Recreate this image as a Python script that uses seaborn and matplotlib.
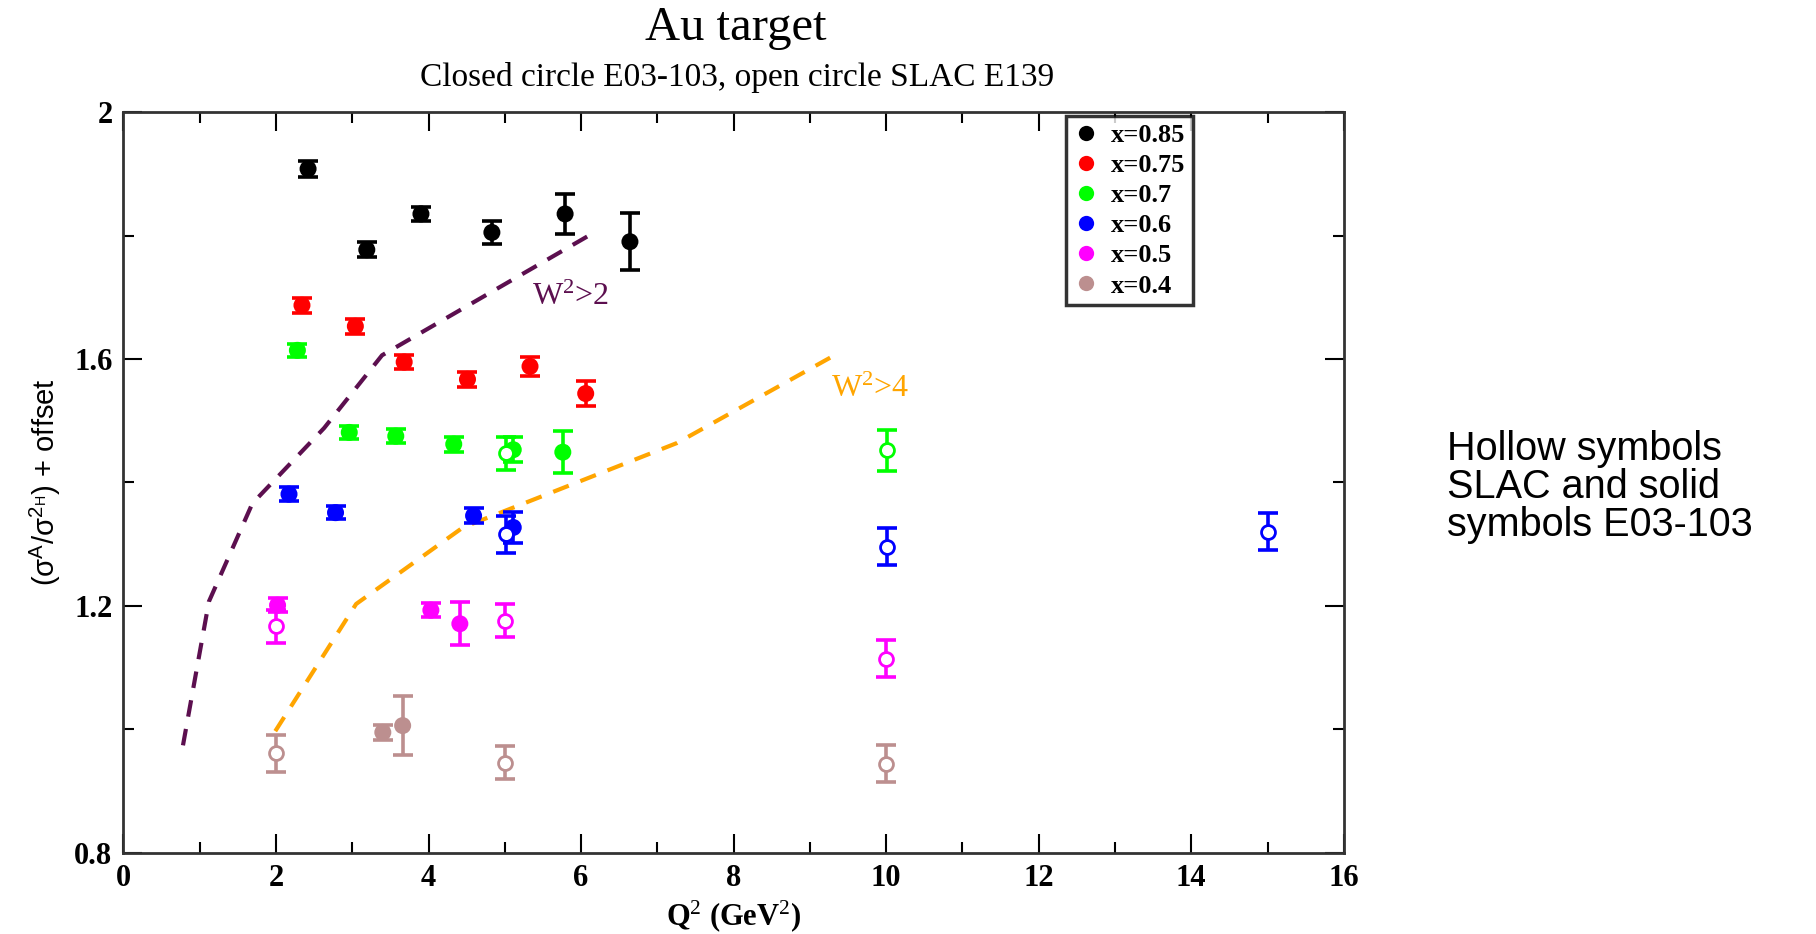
import numpy as np
import pandas as pd
import matplotlib
matplotlib.use("Agg")
import matplotlib.pyplot as plt
import seaborn as sns
from matplotlib.ticker import MultipleLocator
from matplotlib.lines import Line2D

# ---- data ----
labels = ["x=0.85", "x=0.75", "x=0.7", "x=0.6", "x=0.5", "x=0.4"]
colors = ["#000000", "#ff0000", "#00ff00", "#0000ff", "#ff00ff", "#bc8f8f"]

# solid (E03-103)
solid_q2 = {
    "x=0.85": [2.42, 3.19, 3.90, 4.83, 5.79, 6.64],
    "x=0.75": [2.34, 3.04, 3.68, 4.51, 5.33, 6.06],
    "x=0.7": [2.28, 2.96, 3.57, 4.33, 5.11, 5.76],
    "x=0.6": [2.17, 2.78, 4.59, 5.11],
    "x=0.5": [2.02, 4.03, 4.41],
    "x=0.4": [3.40, 3.66],
}
solid_r = {
    "x=0.85": [1.908, 1.777, 1.835, 1.805, 1.835, 1.790],
    "x=0.75": [1.687, 1.653, 1.595, 1.567, 1.588, 1.544],
    "x=0.7": [1.614, 1.481, 1.475, 1.462, 1.453, 1.449],
    "x=0.6": [1.381, 1.351, 1.346, 1.327],
    "x=0.5": [1.201, 1.193, 1.171],
    "x=0.4": [0.995, 1.006],
}
solid_err = {
    "x=0.85": [0.013, 0.012, 0.012, 0.018, 0.032, 0.046],
    "x=0.75": [0.012, 0.012, 0.012, 0.012, 0.015, 0.020],
    "x=0.7": [0.011, 0.011, 0.011, 0.012, 0.020, 0.034],
    "x=0.6": [0.011, 0.011, 0.012, 0.025],
    "x=0.5": [0.011, 0.011, 0.035],
    "x=0.4": [0.012, 0.048],
}
# open (SLAC E139)
open_q2 = {
    "x=0.7": [5.01, 10.01],
    "x=0.6": [5.01, 10.01, 15.01],
    "x=0.5": [2.0, 5.0, 10.0],
    "x=0.4": [2.0, 5.0, 10.0],
}
open_r = {
    "x=0.7": [1.447, 1.452],
    "x=0.6": [1.316, 1.296, 1.320],
    "x=0.5": [1.167, 1.176, 1.114],
    "x=0.4": [0.961, 0.946, 0.944],
}
open_err = {
    "x=0.7": [0.027, 0.033],
    "x=0.6": [0.030, 0.030, 0.030],
    "x=0.5": [0.027, 0.027, 0.030],
    "x=0.4": [0.030, 0.027, 0.030],
}
# W^2 cut curves
w2_2_q2 = [0.78, 1.12, 1.69, 2.63, 3.39, 6.20]
w2_2_r = [0.974, 1.207, 1.366, 1.488, 1.606, 1.807]
w2_4_q2 = [1.99, 3.05, 4.45, 7.26, 9.38]
w2_4_r = [0.997, 1.203, 1.327, 1.464, 1.610]

# ---- style ----
sns.set_style("white")
plt.rcParams["font.family"] = ["Liberation Serif", "DejaVu Serif"]
plt.rcParams["mathtext.fontset"] = "custom"
plt.rcParams["mathtext.rm"] = "Liberation Serif"
plt.rcParams["mathtext.it"] = "Liberation Serif"
plt.rcParams["mathtext.bf"] = "Liberation Serif:bold"
plt.rcParams["mathtext.sf"] = "Liberation Sans"
for k in ["text.color", "axes.labelcolor", "xtick.color", "ytick.color"]:
    plt.rcParams[k] = "black"

fig = plt.figure(figsize=(18.16, 9.34), dpi=100)
ax = fig.add_axes([0.068, 0.087, 0.672, 0.793])

palette = dict(zip(labels, colors))

rows = []
for lab in labels:
    for q, r in zip(solid_q2[lab], solid_r[lab]):
        rows.append({"Q2": q, "R": r, "set": lab})
df_solid = pd.DataFrame(rows)

for lab in labels:
    ax.errorbar(solid_q2[lab], solid_r[lab], yerr=solid_err[lab], fmt="none",
                ecolor=palette[lab], elinewidth=2.6, capsize=7, capthick=2.6, zorder=3)
for lab in open_q2:
    ax.errorbar(open_q2[lab], open_r[lab], yerr=open_err[lab], fmt="none",
                ecolor=palette[lab], elinewidth=2.6, capsize=7, capthick=2.6, zorder=3)

sns.scatterplot(data=df_solid, x="Q2", y="R", hue="set", palette=palette,
                hue_order=labels, s=150, edgecolor="none", ax=ax, zorder=4, legend=False)

rows = []
for lab in open_q2:
    for q, r in zip(open_q2[lab], open_r[lab]):
        rows.append({"Q2": q, "R": r, "set": lab})
df_open = pd.DataFrame(rows)
for lab in open_q2:
    sub = df_open[df_open["set"] == lab]
    ax.scatter(sub["Q2"], sub["R"], s=100, facecolor="white",
               edgecolor=palette[lab], linewidth=2, zorder=5)

df_w2 = pd.DataFrame({"Q2": w2_2_q2, "R": w2_2_r})
df_w4 = pd.DataFrame({"Q2": w2_4_q2, "R": w2_4_r})
sns.lineplot(data=df_w2, x="Q2", y="R", color="#5c0f4f", linewidth=3,
             linestyle=(0, (4, 3)), sort=False, ax=ax, zorder=2)
sns.lineplot(data=df_w4, x="Q2", y="R", color="#ffa500", linewidth=3,
             linestyle=(0, (4, 3)), sort=False, ax=ax, zorder=2)

ax.text(5.36, 1.70, r"W$^2$>2", color="#5c0f4f", fontsize=23, va="center", ha="left")
ax.text(9.28, 1.55, r"W$^2$>4", color="#ffa500", fontsize=23, va="center", ha="left")

ax.set_xlim(0, 16)
ax.set_ylim(0.8, 2.0)
ax.xaxis.set_major_locator(MultipleLocator(2))
ax.xaxis.set_minor_locator(MultipleLocator(1))
ax.yaxis.set_minor_locator(MultipleLocator(0.2))
ax.set_yticks([0.8, 1.2, 1.6, 2.0])
ax.set_yticklabels(["0.8", "1.2", "1.6", "2"])
ax.tick_params(which="both", direction="in", top=True, right=True, bottom=True, left=True,
               width=1.5, labelsize=22)
ax.tick_params(which="major", length=14, pad=8)
ax.tick_params(which="minor", length=8)
for t in ax.get_xticklabels() + ax.get_yticklabels():
    t.set_fontweight("bold")
for sp in ax.spines.values():
    sp.set_linewidth(2)
    sp.set_color("#333333")

ax.set_xlabel(r"Q$^2$ (GeV$^2$)", fontsize=22, fontweight="bold", labelpad=4)
ax.set_ylabel(r"($\mathsf{\sigma^{A}/\sigma^{2_{H}}}$) + offset", fontsize=21,
              family=["Liberation Sans", "DejaVu Sans"], labelpad=8)

fig.text(0.405, 0.970, "Au target", fontsize=35, ha="center", va="center")
fig.text(0.406, 0.917, "Closed circle E03-103, open circle SLAC E139", fontsize=24,
         ha="center", va="center")

handles = [Line2D([], [], marker="o", linestyle="none", color=c, markersize=11,
                  markeredgecolor="none") for c in colors]
leg = ax.legend(handles, labels, loc="upper right", bbox_to_anchor=(0.8766, 0.995),
                borderaxespad=0.0,
                prop={"family": "Liberation Serif", "weight": "bold", "size": 19},
                frameon=True, fancybox=False, edgecolor="black", handletextpad=0.5,
                labelspacing=0.25, borderpad=0.3, handlelength=0.9)
leg.get_frame().set_linewidth(2.5)

fig.text(0.797, 0.479, "Hollow symbols\nSLAC and solid\nsymbols E03-103",
         fontsize=28.5, family=["Liberation Sans", "DejaVu Sans"], ha="left", va="center",
         linespacing=1.0)

fig.savefig("out.png", dpi=100)
